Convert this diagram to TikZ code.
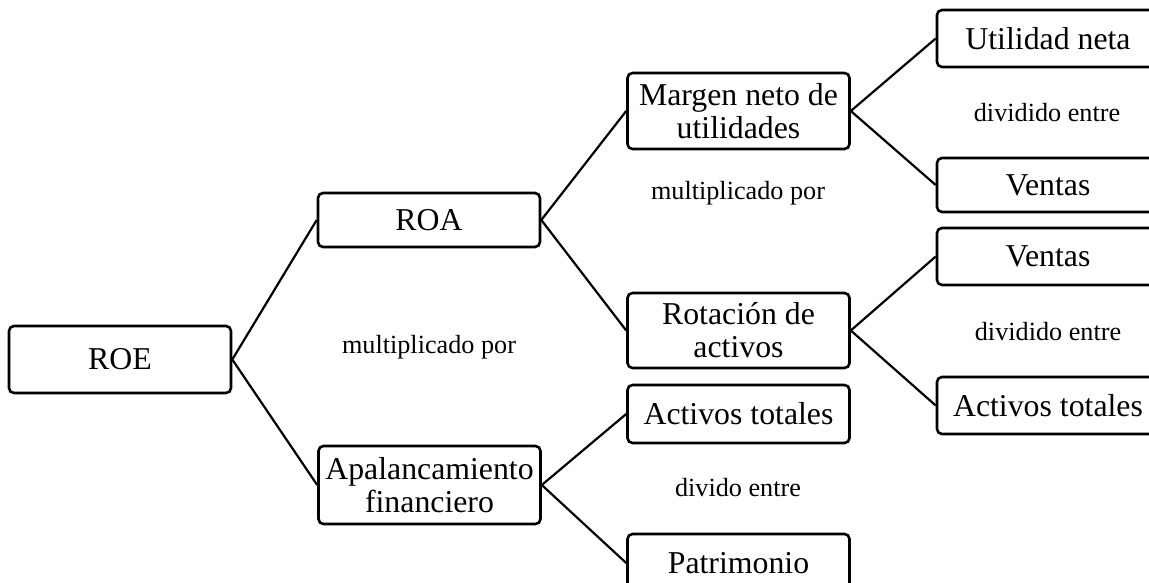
\documentclass[tikz,border=0pt]{standalone}
\usepackage{fontspec}
\setmainfont{Liberation Serif}
\begin{document}
\begin{tikzpicture}[x=1pt,y=-1pt,
  box/.style={draw=black,line width=2.6pt,rounded corners=5pt,fill=white,
    minimum width=222pt,inner sep=0pt,align=center,
    font=\fontsize{31.8}{33}\selectfont},
  lbl/.style={inner sep=0pt,font=\fontsize{26.2}{30}\selectfont},
  conn/.style={draw=black,line width=2.2pt}]
\useasboundingbox (0,0) rectangle (1149,583);
% column 1
\node[box,minimum height=67pt] (roe) at (120,359.5) {ROE};
% column 2
\node[box,minimum height=54pt] (roa) at (429,220) {ROA};
\node[box,minimum height=78pt] (apal) at (429.5,485) {Apalancamiento\\financiero};
% column 3
\node[box,minimum height=76pt] (margen) at (738.5,111) {Margen neto de\\utilidades};
\node[box,minimum height=75pt] (rot) at (738.5,330.5) {Rotación de\\activos};
\node[box,minimum height=58pt] (act1) at (738.5,414) {Activos totales};
\node[box,minimum height=58pt] (pat) at (738.5,563) {Patrimonio};
% column 4
\node[box,minimum height=57pt] (util) at (1048,38.5) {Utilidad neta};
\node[box,minimum height=54pt] (ven1) at (1048,185) {Ventas};
\node[box,minimum height=57pt] (ven2) at (1048,256.5) {Ventas};
\node[box,minimum height=57pt] (act2) at (1048,405.5) {Activos totales};
% labels
\node[lbl] (l1) at (429,347) {multiplicado por};
\node[lbl] (l2) at (738,193) {multiplicado por};
\node[lbl] (l3) at (1047,113) {dividido entre};
\node[lbl] (l4) at (1048,332) {dividido entre};
\node[lbl] (l5) at (738,488) {divido entre};
% connectors
\draw[conn] (roe.east) -- (roa.west);
\draw[conn] (roe.east) -- (apal.west);
\draw[conn] (roa.east) -- (margen.west);
\draw[conn] (roa.east) -- (rot.west);
\draw[conn] (apal.east) -- (act1.west);
\draw[conn] (apal.east) -- (pat.west);
\draw[conn] (margen.east) -- (util.west);
\draw[conn] (margen.east) -- (ven1.west);
\draw[conn] (rot.east) -- (ven2.west);
\draw[conn] (rot.east) -- (act2.west);
\end{tikzpicture}
\end{document}
